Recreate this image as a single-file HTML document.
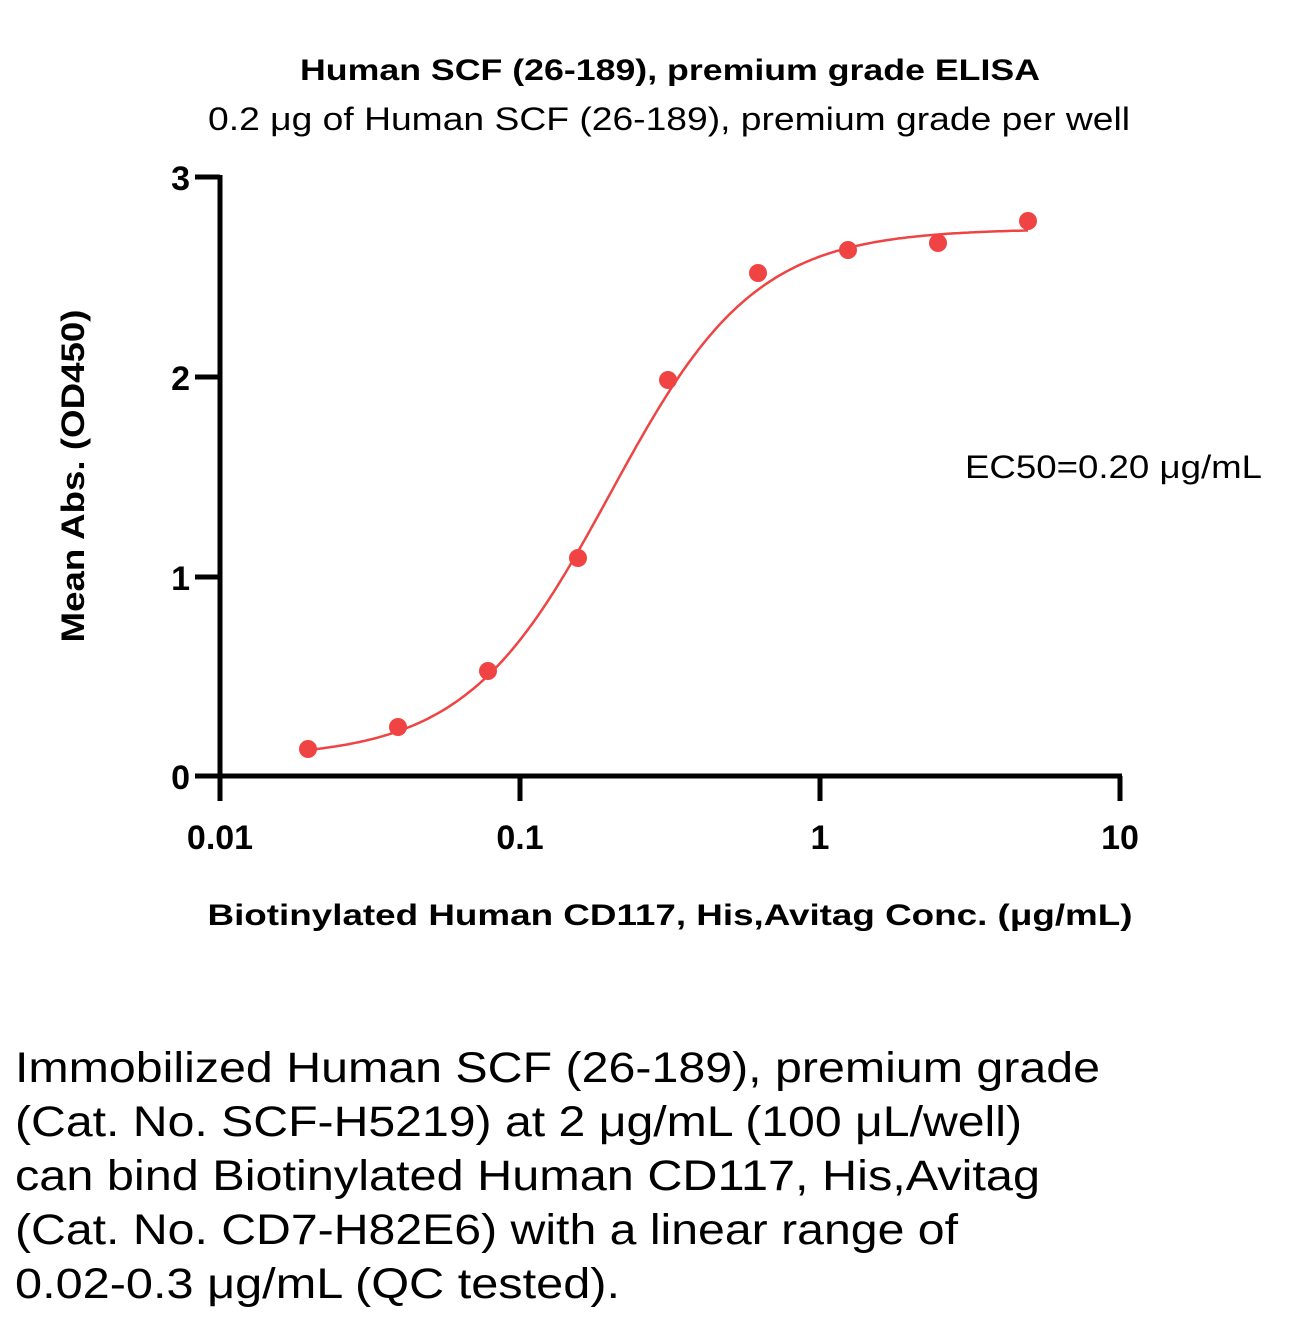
<!DOCTYPE html>
<html><head><meta charset="utf-8"><style>
html,body{margin:0;padding:0;background:#fff;}
svg{display:block;font-family:"Liberation Sans",sans-serif;}
</style></head><body>
<svg id="s" width="1307" height="1322" viewBox="0 0 1307 1322">
<text x="670" y="80" text-anchor="middle" font-size="30" font-weight="bold" textLength="740" lengthAdjust="spacingAndGlyphs">Human SCF (26-189), premium grade ELISA</text>
<text x="669" y="130" text-anchor="middle" font-size="32" textLength="922" lengthAdjust="spacingAndGlyphs">0.2 μg of Human SCF (26-189), premium grade per well</text>
<text transform="translate(84,476) rotate(-90)" text-anchor="middle" font-size="32" font-weight="bold" textLength="333" lengthAdjust="spacingAndGlyphs">Mean Abs. (OD450)</text>
<text x="670" y="925" text-anchor="middle" font-size="30" font-weight="bold" textLength="925" lengthAdjust="spacingAndGlyphs">Biotinylated Human CD117, His,Avitag Conc. (μg/mL)</text>
<text x="965" y="478" font-size="32" textLength="297" lengthAdjust="spacingAndGlyphs">EC50=0.20 μg/mL</text>
<g stroke="#000" stroke-width="5" fill="none">
<line x1="220" y1="175" x2="220" y2="801"/>
<line x1="195" y1="776" x2="1122" y2="776"/>
<line x1="195" y1="177" x2="220" y2="177"/>
<line x1="195" y1="377" x2="220" y2="377"/>
<line x1="195" y1="577" x2="220" y2="577"/>
<line x1="520" y1="776" x2="520" y2="801"/>
<line x1="820" y1="776" x2="820" y2="801"/>
<line x1="1120" y1="776" x2="1120" y2="801"/>
</g>
<g font-size="34" font-weight="bold" text-anchor="end">
<text x="190" y="190">3</text><text x="190" y="390">2</text><text x="190" y="590">1</text><text x="190" y="789">0</text>
</g>
<g font-size="34" font-weight="bold" text-anchor="middle">
<text x="220" y="849">0.01</text><text x="520" y="849">0.1</text><text x="820" y="849">1</text><text x="1120" y="849">10</text>
</g>
<path id="curve" fill="none" stroke="#ee4444" stroke-width="2.5"/>
<g fill="#f04444">
<circle cx="308" cy="749" r="9"/><circle cx="398" cy="727" r="9"/><circle cx="488" cy="671" r="9"/>
<circle cx="578" cy="558" r="9"/><circle cx="668" cy="380" r="9"/><circle cx="758" cy="273" r="9"/>
<circle cx="848" cy="250" r="9"/><circle cx="938" cy="243" r="9"/><circle cx="1028" cy="221" r="9"/>
</g>
<g font-size="43">
<text x="15" y="1082" textLength="1085" lengthAdjust="spacingAndGlyphs">Immobilized Human SCF (26-189), premium grade</text>
<text x="15" y="1136" textLength="1007" lengthAdjust="spacingAndGlyphs">(Cat. No. SCF-H5219) at 2 μg/mL (100 μL/well)</text>
<text x="15" y="1190" textLength="1025" lengthAdjust="spacingAndGlyphs">can bind Biotinylated Human CD117, His,Avitag</text>
<text x="15" y="1244" textLength="943" lengthAdjust="spacingAndGlyphs">(Cat. No. CD7-H82E6) with a linear range of</text>
<text x="15" y="1298" textLength="605" lengthAdjust="spacingAndGlyphs">0.02-0.3 μg/mL (QC tested).</text>
</g>
</svg>
<script>
var b=0.09,t=2.74,h=1.8,ec=Math.log10(0.2),d="";
for(var px=308;px<=1028;px+=3){var lx=-2+(px-220)/300;var v=b+(t-b)/(1+Math.pow(10,h*(ec-lx)));var py=776-v*199.7;d+=(d?"L":"M")+px+","+py.toFixed(1);}
document.getElementById("curve").setAttribute("d",d);
</script>
</body></html>
